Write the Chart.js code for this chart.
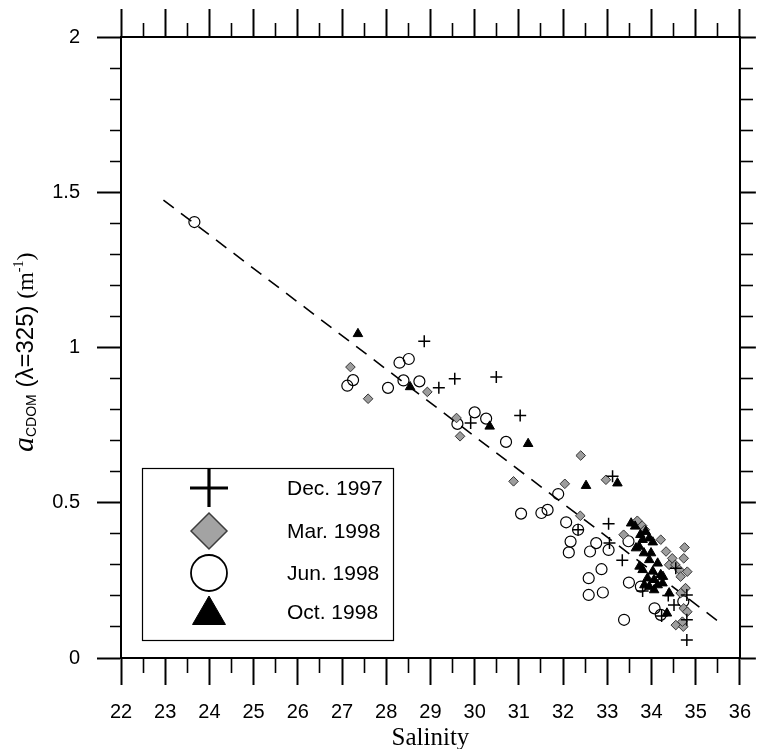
<!DOCTYPE html>
<html>
<head>
<meta charset="utf-8">
<script src="https://cdn.jsdelivr.net/npm/chart.js@4/dist/chart.umd.min.js"></script>
<style>
  html, body { margin: 0; padding: 0; background: #fff; }
  #wrap { width: 766px; height: 749px; position: relative; }
</style>
</head>
<body>
<div id="wrap"><canvas id="c" width="766" height="749"></canvas></div>
<script>
// Survey labels
const seriesNames = ['Dec. 1997', 'Mar. 1998', 'Jun. 1998', 'Oct. 1998'];

// [salinity, aCDOM(325) in m^-1]
const dec1997 = [
  [28.86, 1.020], [29.19, 0.870], [29.55, 0.899], [30.49, 0.905], [29.91, 0.757], [31.03, 0.781],
  [33.12, 0.585], [32.34, 0.413], [33.03, 0.432], [33.05, 0.370], [33.34, 0.315], [34.23, 0.135],
  [33.80, 0.216], [34.38, 0.201], [34.51, 0.171], [34.80, 0.203], [34.55, 0.289], [34.80, 0.123],
  [34.80, 0.058]
];
const mar1998 = [
  [27.19, 0.937], [27.59, 0.835], [28.93, 0.857], [29.59, 0.773], [29.67, 0.714], [30.88, 0.569],
  [32.40, 0.652], [32.04, 0.561], [32.97, 0.574], [32.39, 0.458], [33.37, 0.397], [33.68, 0.442],
  [33.79, 0.426], [33.85, 0.413], [34.21, 0.381], [34.75, 0.356], [34.33, 0.343], [34.47, 0.321],
  [34.73, 0.321], [34.40, 0.300], [34.54, 0.300], [34.63, 0.284], [34.81, 0.278], [34.66, 0.262],
  [34.77, 0.225], [34.66, 0.209], [34.73, 0.160], [34.81, 0.149], [34.55, 0.106], [34.72, 0.101],
  [34.70, 0.117]
];
const jun1998 = [
  [23.66, 1.404], [28.30, 0.951], [28.51, 0.963], [27.12, 0.877], [27.25, 0.895], [28.04, 0.870],
  [28.39, 0.894], [28.75, 0.891], [30.00, 0.791], [30.26, 0.771], [29.61, 0.754], [30.71, 0.696],
  [31.89, 0.528], [31.05, 0.465], [31.51, 0.467], [31.65, 0.477], [32.07, 0.437], [32.34, 0.413],
  [32.17, 0.375], [32.13, 0.340], [32.75, 0.370], [32.61, 0.343], [33.03, 0.348], [32.87, 0.286],
  [32.58, 0.257], [32.58, 0.203], [32.90, 0.211], [33.48, 0.376], [33.49, 0.243], [33.76, 0.230],
  [33.38, 0.123], [34.07, 0.160], [34.21, 0.139], [34.72, 0.182]
];
const oct1998 = [
  [27.36, 1.044], [28.54, 0.873], [30.34, 0.746], [31.21, 0.690], [32.52, 0.555], [33.23, 0.563],
  [33.54, 0.434], [33.63, 0.424], [33.75, 0.397], [33.87, 0.407], [33.80, 0.381], [33.95, 0.386],
  [34.03, 0.373], [33.65, 0.354], [33.72, 0.359], [33.99, 0.338], [33.83, 0.338], [33.95, 0.316],
  [34.14, 0.305], [33.73, 0.295], [33.80, 0.284], [34.03, 0.279], [34.21, 0.268], [34.26, 0.262],
  [33.91, 0.257], [34.06, 0.252], [33.84, 0.235], [33.95, 0.230], [34.14, 0.235], [34.25, 0.241],
  [34.06, 0.219], [34.40, 0.209], [34.35, 0.144]
];
// Ends of the dashed mixing line
const fitLine = [[22.96, 1.475], [35.52, 0.117]];

// Axis ranges and tick steps
const xRange = [22, 36];
const yRange = [0, 2];
const xMinorStep = 0.5, xMajorStep = 1;
const yMinorStep = 0.1, yMajorStep = 0.5;

const pts = arr => arr.map(([x, y]) => ({ x, y }));
const isMultiple = (v, step) => Math.abs(v / step - Math.round(v / step)) < 1e-6;

// Major/minor tick marks: minor marks are shortened with a dash pattern.
// innerFirst: the tick line is drawn starting at the axis (bottom/right) or at its outer end (top/left).
function tickMarks(majorStep, majorLen, minorLen, innerFirst) {
  return {
    display: true,
    drawOnChartArea: false,
    drawTicks: true,
    tickLength: majorLen,
    tickColor: '#000',
    tickWidth: ctx => isMultiple(ctx.tick.value, majorStep) ? 2 : 1.6,
    tickBorderDash: ctx => isMultiple(ctx.tick.value, majorStep)
      ? []
      : (innerFirst ? [minorLen, 1000] : [0, majorLen - minorLen, minorLen, 1000])
  };
}

const tickFont = { family: '"Liberation Sans", Arial, sans-serif', size: 20 };
const border = { display: true, color: '#000', width: 2 };

// Legend drawn inside the plot, lower left
const legendPlugin = {
  id: 'boxLegend',
  afterDraw(chart) {
    const ctx = chart.ctx;
    const box = { x: 142.5, y: 468.5, w: 251, h: 172 };
    ctx.save();
    ctx.fillStyle = '#fff';
    ctx.fillRect(box.x, box.y, box.w, box.h);
    ctx.strokeStyle = '#000';
    ctx.lineWidth = 1.2;
    ctx.strokeRect(box.x, box.y, box.w, box.h);
    const rows = [488, 531, 573, 612];
    const symX = 209, textX = 287;
    const styles = [
      { pointStyle: 'cross', radius: 19, borderWidth: 3.2, fill: '#000', stroke: '#000' },
      { pointStyle: 'rectRot', radius: 18, borderWidth: 1.5, fill: '#a3a3a3', stroke: '#3d3d3d' },
      { pointStyle: 'circle', radius: 18, borderWidth: 1.8, fill: '#fff', stroke: '#000' },
      { pointStyle: 'triangle', radius: 19, borderWidth: 1, fill: '#000', stroke: '#000' }
    ];
    styles.forEach((s, i) => {
      ctx.fillStyle = s.fill;
      ctx.strokeStyle = s.stroke;
      ctx.lineWidth = s.borderWidth;
      Chart.helpers.drawPoint(ctx, { pointStyle: s.pointStyle, radius: s.radius, rotation: 0, borderWidth: s.borderWidth }, symX, rows[i] + (s.pointStyle === 'triangle' ? 3 : 0));
      ctx.fillStyle = '#000';
      ctx.font = '21px "Liberation Sans", Arial, sans-serif';
      ctx.textBaseline = 'middle';
      ctx.textAlign = 'left';
      ctx.fillText(seriesNames[i], textX, rows[i] + 1);
    });
    ctx.restore();
  }
};

// Vertical axis title with italic symbol, subscript and superscript
const yTitlePlugin = {
  id: 'richYTitle',
  afterDraw(chart) {
    const ctx = chart.ctx;
    const parts = [
      { text: 'a', font: 'italic 30px "Liberation Serif", serif', dy: 0 },
      { text: 'CDOM', font: '14px "Liberation Sans", sans-serif', dy: 3 },
      { text: ' (λ=325) ', font: '24px "Liberation Sans", sans-serif', dy: 0 },
      { text: '(m', font: '24px "Liberation Serif", serif', dy: 0 },
      { text: '-1', font: '14px "Liberation Serif", serif', dy: -10 },
      { text: ')', font: '24px "Liberation Serif", serif', dy: 0 }
    ];
    ctx.save();
    ctx.translate(33, 452);
    ctx.rotate(-Math.PI / 2);
    ctx.fillStyle = '#000';
    ctx.textBaseline = 'alphabetic';
    ctx.textAlign = 'left';
    let x = 0;
    parts.forEach(p => {
      ctx.font = p.font;
      ctx.fillText(p.text, x, p.dy);
      x += ctx.measureText(p.text).width;
    });
    ctx.restore();
  }
};

new Chart(document.getElementById('c'), {
  type: 'scatter',
  data: {
    datasets: [
      {
        label: 'fit', type: 'line', data: pts(fitLine),
        borderColor: '#000', borderWidth: 1.6, borderDash: [13, 9],
        pointRadius: 0, fill: false, tension: 0, order: 5
      },
      {
        label: seriesNames[0], data: pts(dec1997),
        pointStyle: 'cross', pointRadius: 6, borderColor: '#000', borderWidth: 1.5, order: 1
      },
      {
        label: seriesNames[1], data: pts(mar1998),
        pointStyle: 'rectRot', pointRadius: 4.8, backgroundColor: '#9d9d9d', borderColor: '#333', borderWidth: 1, order: 2
      },
      {
        label: seriesNames[2], data: pts(jun1998),
        pointStyle: 'circle', pointRadius: 5.5, backgroundColor: 'rgba(255,255,255,0)', borderColor: '#000', borderWidth: 1.2, order: 3
      },
      {
        label: seriesNames[3], data: pts(oct1998),
        pointStyle: 'triangle', pointRadius: 5.5, backgroundColor: '#000', borderColor: '#000', borderWidth: 1, order: 0
      }
    ]
  },
  options: {
    responsive: false,
    animation: false,
    devicePixelRatio: 1,
    layout: { padding: 0 },
    plugins: { legend: { display: false }, tooltip: { enabled: false } },
    scales: {
      x: {
        type: 'linear', position: 'bottom', min: xRange[0], max: xRange[1],
        afterFit: s => { s.height = 91; },
        border,
        grid: tickMarks(xMajorStep, 27, 14, true),
        ticks: {
          stepSize: xMinorStep, autoSkip: false, maxRotation: 0, color: '#000', font: tickFont, padding: 15,
          callback: v => isMultiple(v, xMajorStep) ? String(Math.round(v)) : ''
        },
        title: {
          display: true, text: 'Salinity', color: '#000',
          font: { family: '"Liberation Serif", "Times New Roman", serif', size: 25 },
          padding: { top: 0, bottom: -4 }
        }
      },
      x2: {
        type: 'linear', position: 'top', min: xRange[0], max: xRange[1],
        afterFit: s => { s.height = 37; },
        border,
        grid: tickMarks(xMajorStep, 28, 14, false),
        ticks: { stepSize: xMinorStep, autoSkip: false, display: false }
      },
      y: {
        type: 'linear', position: 'left', min: yRange[0], max: yRange[1],
        afterFit: s => { s.width = 121; },
        border,
        grid: tickMarks(yMajorStep, 24, 11, false),
        ticks: {
          stepSize: yMinorStep, autoSkip: false, color: '#000', font: tickFont, padding: 17,
          callback: v => isMultiple(v, yMajorStep) ? String(Math.round(v * 10) / 10) : ''
        }
      },
      y2: {
        type: 'linear', position: 'right', min: yRange[0], max: yRange[1],
        afterFit: s => { s.width = 20; },
        border,
        grid: tickMarks(yMajorStep, 16, 12, true),
        ticks: { stepSize: yMinorStep, autoSkip: false, display: false }
      }
    }
  },
  plugins: [legendPlugin, yTitlePlugin]
});
</script>
</body>
</html>
